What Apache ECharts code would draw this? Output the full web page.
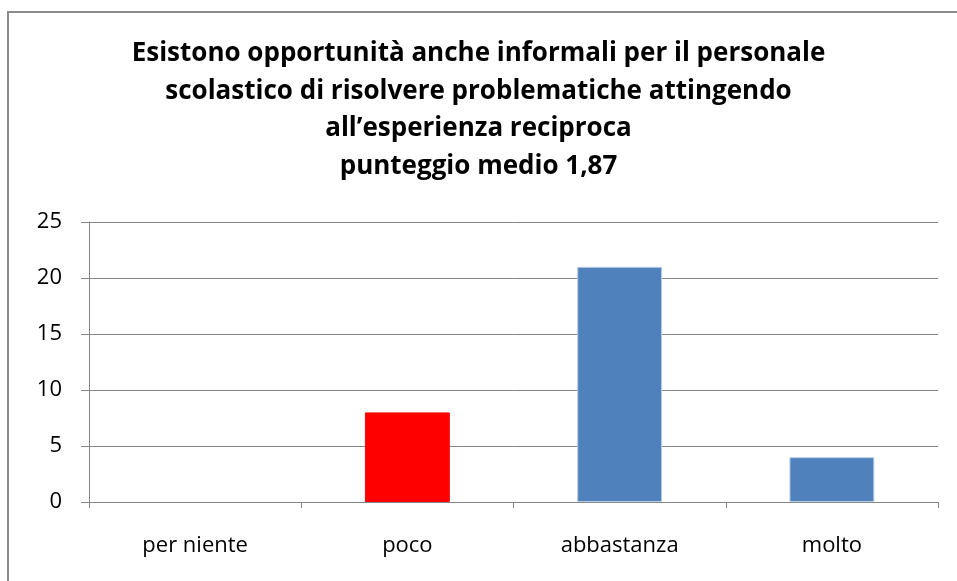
<!DOCTYPE html>
<html>
<head>
<meta charset="utf-8">
<script src="https://cdn.jsdelivr.net/npm/echarts@6/dist/echarts.min.js"></script>
<style>
  html, body { margin: 0; padding: 0; background: #fff; }
  #chart { width: 957px; height: 581px; position: relative; }
  #frame {
    position: absolute; left: 7px; top: 11px; width: 1000px; height: 700px;
    border: 2px solid #8c8c8c; box-sizing: border-box; pointer-events: none;
  }
</style>
</head>
<body>
<div id="chart"></div>
<div id="frame"></div>
<script>
const titleLines = [
  'Esistono opportunità anche informali per il personale',
  'scolastico di risolvere problematiche attingendo',
  'all\u2019esperienza reciproca',
  'punteggio medio 1,87'
]
const categories = ['per niente', 'poco', 'abbastanza', 'molto']
const values = [0, 8, 21, 4]
const barColors = ['#4F81BD', '#FF0000', '#4F81BD', '#4F81BD']
const yTicks = [0, 5, 10, 15, 20, 25]

const chart = echarts.init(document.getElementById('chart'))
chart.setOption({
  animation: false,
  title: {
    text: titleLines.join('\n'),
    left: 'center',
    top: 30,
    textStyle: {
      fontFamily: 'Open Sans',
      fontWeight: 'bold',
      fontSize: 26,
      lineHeight: 37.5,
      color: '#000'
    }
  },
  grid: {
    left: 89,
    right: 19,
    top: 222,
    bottom: 79
  },
  xAxis: {
    type: 'category',
    data: categories,
    axisLine: { lineStyle: { color: '#868686', width: 1 } },
    axisTick: { show: true, length: 6, lineStyle: { color: '#868686' } },
    axisLabel: {
      margin: 33,
      fontFamily: 'Open Sans',
      fontSize: 22,
      color: '#000'
    }
  },
  yAxis: {
    type: 'value',
    min: 0,
    max: yTicks[yTicks.length - 1],
    interval: 5,
    axisLine: { show: true, lineStyle: { color: '#868686', width: 1 } },
    axisTick: { show: true, length: 8, lineStyle: { color: '#868686' } },
    splitLine: { show: true, lineStyle: { color: '#868686', width: 1 } },
    axisLabel: {
      margin: 27,
      fontFamily: 'Open Sans',
      fontSize: 22,
      color: '#000'
    }
  },
  series: [{
    type: 'bar',
    barWidth: '40%',
    data: values.map((v, i) => ({
      value: v,
      itemStyle: {
        color: barColors[i],
        borderColor: i === 1 ? barColors[i] : '#B9CDE5',
        borderWidth: v > 0 ? 1 : 0
      }
    }))
  }]
})
</script>
</body>
</html>
